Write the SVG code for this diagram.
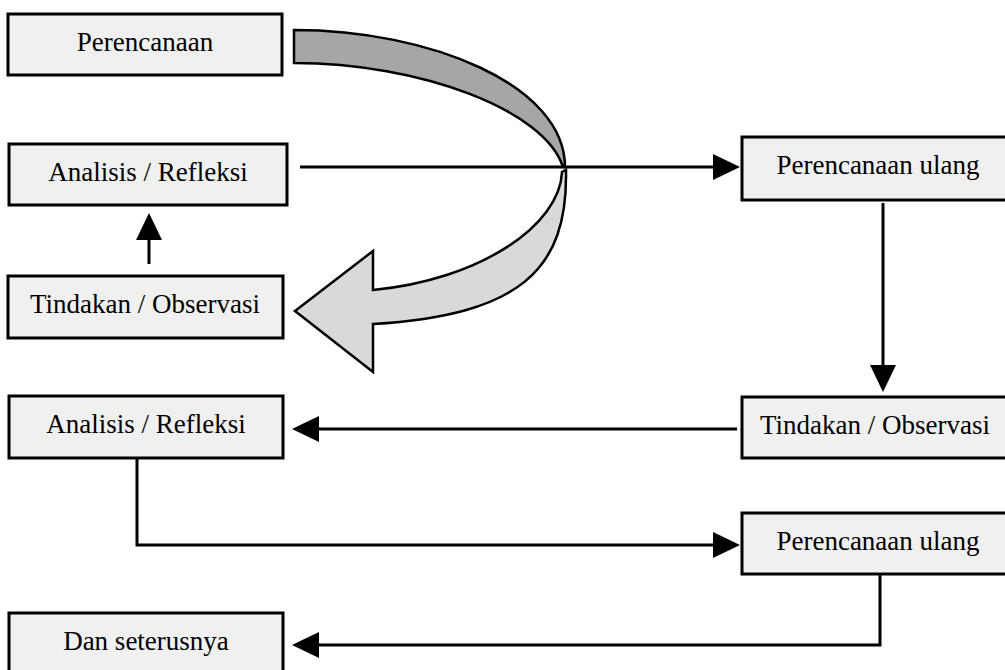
<svg xmlns="http://www.w3.org/2000/svg" width="1005" height="670" viewBox="0 0 1005 670">
<style>
  .box rect { fill: #f0f0f0; stroke: #000; stroke-width: 3; }
  .box text { font-family: "Liberation Serif", "Times New Roman", serif; font-size: 27px; fill: #000; text-anchor: middle; }
  .conn { fill: none; stroke: #000; stroke-width: 3; marker-end: url(#ah); }
  .band { stroke: #000; stroke-width: 2.5; stroke-linejoin: miter; }
</style>
<defs>
  <marker id="ah" markerUnits="userSpaceOnUse" markerWidth="28" markerHeight="28" refX="23" refY="13" orient="auto">
    <path d="M0,0 L27,13 L0,26 Z" fill="#000"/>
  </marker>
</defs>

<g id="n1" class="box"><rect x="8" y="14" width="274" height="61"/><text x="145" y="51">Perencanaan</text></g>
<g id="n2" class="box"><rect x="9" y="144" width="278" height="61"/><text x="148" y="181">Analisis / Refleksi</text></g>
<g id="n3" class="box"><rect x="8" y="276" width="275" height="62"/><text x="145" y="313">Tindakan / Observasi</text></g>
<g id="n4" class="box"><rect x="9" y="396" width="274" height="62"/><text x="146" y="433">Analisis / Refleksi</text></g>
<g id="n5" class="box"><rect x="9" y="613" width="274" height="62"/><text x="146" y="650">Dan seterusnya</text></g>
<g id="n6" class="box"><rect x="742" y="137" width="274" height="63"/><text x="878" y="174">Perencanaan ulang</text></g>
<g id="n7" class="box"><rect x="742" y="397" width="274" height="61"/><text x="875" y="434">Tindakan / Observasi</text></g>
<g id="n8" class="box"><rect x="742" y="513" width="274" height="61"/><text x="878" y="550">Perencanaan ulang</text></g>

<g id="curved-arrow">
  <path class="band" fill="#a6a6a6" d="M294,30 C430,30 565,85 565,167 L563,167 C545,110 420,63 294,63 Z"/>
  <path class="band" fill="#d9d9d9" d="M562,172 C560,225 480,280 373,290 L373,251 L295,311 L373,372 L373,324 C520,315 568,270 566,170 Z"/>
</g>

<g id="connectors">
  <path class="conn" d="M149,264 L149,217"/>
  <path class="conn" d="M300,167 L736,167"/>
  <path class="conn" d="M883,203 L883,388"/>
  <path class="conn" d="M737,429 L296,429"/>
  <path class="conn" d="M137,458 L137,545 L736,545"/>
  <path class="conn" d="M880,574 L880,645 L296,645"/>
</g>
</svg>
